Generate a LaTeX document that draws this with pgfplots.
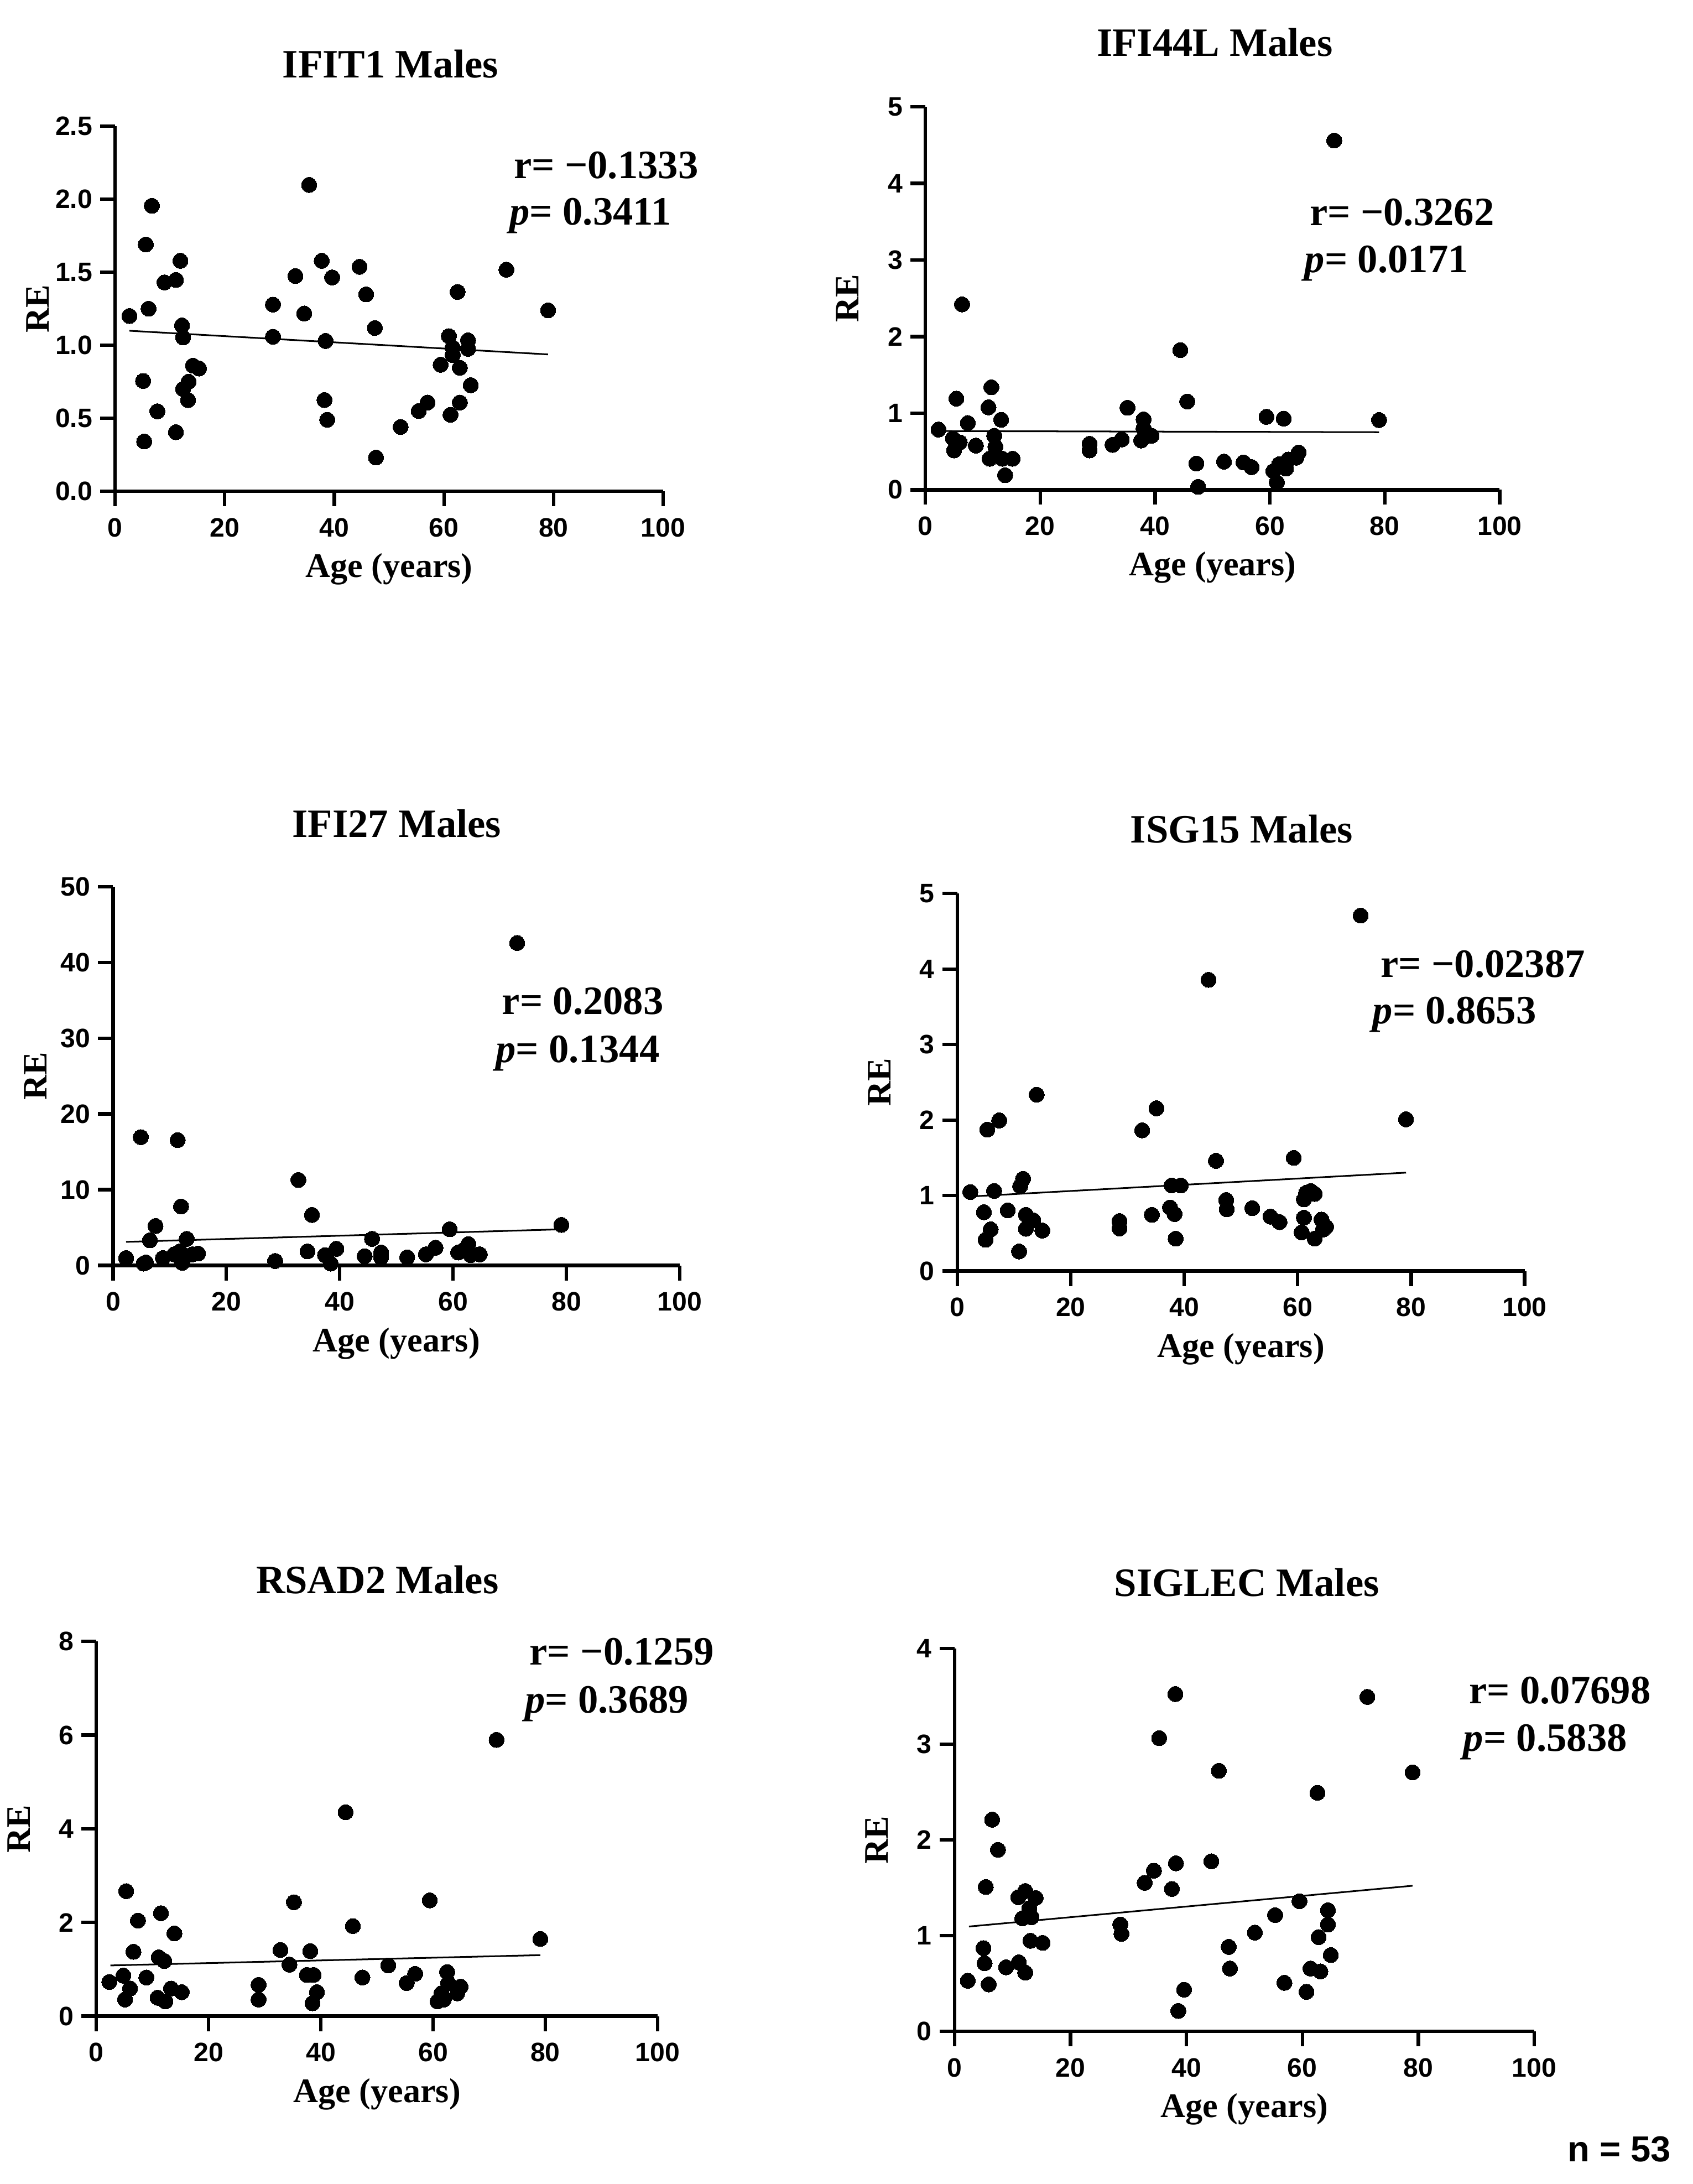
\documentclass[border=0pt]{standalone}
\usepackage{fontspec}
\setmainfont{Liberation Serif}
\newfontfamily\arialfont{Liberation Sans}
\usepackage{pgfplots}
\pgfplotsset{compat=1.18}
\pgfplotsset{
 panel/.style={
  scale only axis, anchor=south west, clip=false,
  axis lines*=left, axis line style={line width=1.25pt, black},
  tick style={line width=1.25pt, black}, major tick length=5.4pt, minor tick num=0,
  tick align=outside,
  xmin=0, xmax=100, ymin=0, xtick={0,20,...,100},
  /pgf/number format/assume math mode=true,
  tick label style={font=\arialfont\bfseries\fontsize{9.6}{11}\selectfont},
  xticklabel style={anchor=base, yshift=-11pt},
  yticklabel style={anchor=east, inner sep=0pt, xshift=-2.6pt},
  xlabel={Age (years)}, ylabel={RE},
  every axis x label/.style={at={(axis description cs:0.5,0)}, anchor=base, yshift=-31pt, font=\bfseries\fontsize{12.4}{14}\selectfont},
  every axis y label/.style={at={(axis description cs:0,0.5)}, xshift=-28pt, rotate=90, anchor=center, font=\bfseries\fontsize{12.4}{14}\selectfont},
 },
 pts/.style={only marks, mark=*, mark size=2.75pt, black, mark options={fill=black, draw=black, line width=0pt}},
 fit/.style={black, line width=0.6pt, no marks},
}
\newcommand{\ttl}{\bfseries\fontsize{14.5}{16}\selectfont}
\begin{document}
\begin{tikzpicture}
\useasboundingbox (0,0) rectangle (610pt,787pt);
% ---------- IFIT1
\begin{axis}[panel, at={(41.5pt,610pt)}, width=197.5pt, height=131.5pt, ymax=2.5,
  ytick={0,0.5,...,2.5}, yticklabel style={/pgf/number format/.cd, fixed, fixed zerofill, precision=1}]
\addplot[pts] coordinates {(2.6,1.20)(6.7,1.955)(5.6,1.69)(6.1,1.25)(5.1,0.755)(5.3,0.34)(7.7,0.547)(9.0,1.43)(11.1,1.447)(11.9,1.578)(12.2,1.135)(12.4,1.053)(11.1,0.404)(12.4,0.70)(13.4,0.75)(13.3,0.624)(14.2,0.86)(15.3,0.84)(28.8,1.278)(28.8,1.058)(32.9,1.474)(34.5,1.217)(35.4,2.098)(37.7,1.578)(39.6,1.464)(38.4,1.029)(38.2,0.624)(38.7,0.489)(44.6,1.537)(45.8,1.348)(47.4,1.118)(47.6,0.23)(52.1,0.44)(55.4,0.549)(57.0,0.607)(59.4,0.866)(60.9,1.062)(61.6,0.983)(61.6,0.932)(61.2,0.523)(62.5,1.365)(62.9,0.845)(62.9,0.607)(64.4,1.033)(64.4,0.975)(64.9,0.726)(71.4,1.517)(79.0,1.239)};
\addplot[fit] coordinates {(2.6,1.099)(79.0,0.937)};
\end{axis}
% ---------- IFI44L
\begin{axis}[panel, at={(333.5pt,610.5pt)}, width=207pt, height=138pt, ymax=5, ytick={0,1,...,5}]
\addplot[pts] coordinates {(2.3,0.786)(4.8,0.671)(5.4,1.19)(6.4,2.42)(5.0,0.514)(6.0,0.619)(7.4,0.871)(8.8,0.576)(11.0,1.076)(11.5,1.338)(12.0,0.705)(12.2,0.562)(11.2,0.405)(13.2,0.914)(13.4,0.405)(13.9,0.19)(15.2,0.405)(28.6,0.6)(28.6,0.514)(32.6,0.586)(34.2,0.657)(35.2,1.071)(38.0,0.919)(38.0,0.8)(37.6,0.643)(39.4,0.705)(44.4,1.824)(45.6,1.152)(47.2,0.343)(47.5,0.038)(52.0,0.367)(55.4,0.357)(56.8,0.295)(59.4,0.952)(62.4,0.929)(60.6,0.243)(61.2,0.095)(61.6,0.333)(62.8,0.276)(63.2,0.395)(64.6,0.419)(65.0,0.486)(71.2,4.56)(79.0,0.91)};
\addplot[fit] coordinates {(2.3,0.767)(79.0,0.752)};
\end{axis}
% ---------- IFI27
\begin{axis}[panel, at={(40.75pt,331pt)}, width=204.25pt, height=136.5pt, ymax=50, ytick={0,10,...,50}]
\addplot[pts] coordinates {(2.3,0.97)(4.9,16.93)(5.4,0.24)(5.8,0.39)(6.5,3.31)(7.5,5.2)(8.8,0.97)(10.8,1.46)(11.4,16.54)(12.0,7.78)(12.2,0.34)(11.8,1.85)(13.0,3.5)(14.0,1.46)(15.0,1.56)(28.6,0.58)(32.7,11.28)(34.3,1.85)(35.1,6.66)(37.4,1.36)(38.4,0.24)(39.4,2.19)(44.4,1.22)(45.7,3.5)(47.3,1.7)(47.3,1.07)(51.9,1.07)(55.2,1.46)(56.9,2.33)(59.4,4.77)(60.9,1.7)(61.7,1.95)(62.7,2.82)(63.1,1.36)(64.7,1.46)(71.3,42.56)(79.1,5.35)};
\addplot[fit] coordinates {(2.3,3.11)(79.1,4.77)};
\end{axis}
% ---------- ISG15
\begin{axis}[panel, at={(345pt,329pt)}, width=204.5pt, height=136pt, ymax=5, ytick={0,1,...,5}]
\addplot[pts] coordinates {(2.3,1.046)(4.7,0.778)(5.0,0.413)(5.3,1.873)(5.9,0.55)(6.5,1.06)(7.4,1.994)(8.9,0.803)(11.1,1.124)(11.6,1.221)(10.9,0.258)(12.1,0.744)(12.1,0.559)(13.4,0.671)(14.0,2.335)(15.0,0.535)(28.6,0.661)(28.6,0.564)(32.6,1.863)(34.3,0.744)(35.1,2.155)(37.5,0.841)(38.3,0.754)(37.8,1.133)(39.4,1.133)(38.5,0.428)(44.3,3.857)(45.6,1.459)(47.4,0.939)(47.5,0.817)(52.0,0.832)(55.2,0.72)(56.8,0.647)(59.3,1.498)(61.1,0.948)(61.5,1.036)(61.1,0.705)(60.7,0.511)(62.3,1.06)(63.0,1.021)(63.0,0.428)(64.2,0.681)(64.5,0.55)(65.0,0.584)(71.1,4.708)(79.1,2.009)};
\addplot[fit] coordinates {(2.3,0.987)(79.1,1.303)};
\end{axis}
% ---------- RSAD2
\begin{axis}[panel, at={(34.75pt,60.5pt)}, width=202.25pt, height=135pt, ymax=8, ytick={0,2,...,8}]
\addplot[pts] coordinates {(2.3,0.729)(4.8,0.863)(5.3,2.667)(5.1,0.353)(6.0,0.588)(6.6,1.373)(7.4,2.039)(8.9,0.824)(10.9,0.392)(11.5,2.196)(11.1,1.255)(12.1,1.176)(12.3,0.314)(13.3,0.588)(13.9,1.765)(15.2,0.51)(28.9,0.667)(28.9,0.353)(32.8,1.412)(34.4,1.098)(35.2,2.431)(38.1,1.388)(37.5,0.878)(38.7,0.878)(38.5,0.275)(39.3,0.51)(44.4,4.353)(45.7,1.922)(47.4,0.824)(52.0,1.082)(55.3,0.706)(56.8,0.902)(59.4,2.471)(60.8,0.314)(61.5,0.486)(61.9,0.353)(62.5,0.941)(62.7,0.706)(64.3,0.486)(64.9,0.627)(71.3,5.898)(79.1,1.647)};
\addplot[fit] coordinates {(2.5,1.082)(79.1,1.302)};
\end{axis}
% ---------- SIGLEC
\begin{axis}[panel, at={(344pt,55pt)}, width=209pt, height=138pt, ymax=4, ytick={0,1,...,4}]
\addplot[pts] coordinates {(2.3,0.528)(5.0,0.869)(5.2,0.711)(5.4,1.508)(5.9,0.49)(6.5,2.211)(7.5,1.896)(8.9,0.669)(11.1,0.72)(11.0,1.401)(12.2,1.465)(12.2,0.613)(11.7,1.18)(12.9,1.286)(13.3,1.193)(13.1,0.946)(14.0,1.393)(15.2,0.924)(28.6,1.116)(28.8,1.018)(32.8,1.551)(34.4,1.678)(35.3,3.063)(37.5,1.487)(38.2,1.755)(38.1,3.523)(38.6,0.213)(39.6,0.435)(44.3,1.776)(45.6,2.722)(47.3,0.882)(47.5,0.656)(51.8,1.031)(55.3,1.214)(56.9,0.507)(59.5,1.359)(60.7,0.413)(61.4,0.656)(62.6,2.492)(62.8,0.984)(63.1,0.626)(64.4,1.265)(64.4,1.116)(64.9,0.797)(71.2,3.493)(79.0,2.705)};
\addplot[fit] coordinates {(2.5,1.095)(79.0,1.521)};
\end{axis}
% ---------- titles
\node[anchor=base, font=\ttl] at (140.7pt,759pt) {IFIT1 Males};
\node[anchor=base, font=\ttl] at (437.8pt,766.8pt) {IFI44L Males};
\node[anchor=base, font=\ttl] at (143pt,485.3pt) {IFI27 Males};
\node[anchor=base, font=\ttl] at (447.5pt,483.3pt) {ISG15 Males};
\node[anchor=base, font=\ttl] at (136pt,212.85pt) {RSAD2 Males};
\node[anchor=base, font=\ttl] at (449.35pt,211.85pt) {SIGLEC Males};
% ---------- statistics
\begin{scope}[every node/.style={anchor=base west, inner sep=0pt, font=\ttl}]
\node at (185pt,722.65pt) {r= −0.1333};
\node at (183.5pt,706pt) {\textit{p}= 0.3411};
\node at (471.85pt,705.75pt) {r= −0.3262};
\node at (470pt,688.9pt) {\textit{p}= 0.0171};
\node at (180.75pt,421.5pt) {r= 0.2083};
\node at (178.5pt,404.2pt) {\textit{p}= 0.1344};
\node at (497.4pt,434.8pt) {r= −0.02387};
\node at (494.5pt,418.2pt) {\textit{p}= 0.8653};
\node at (190.7pt,187pt) {r= −0.1259};
\node at (189pt,169.65pt) {\textit{p}= 0.3689};
\node at (529.3pt,173.05pt) {r= 0.07698};
\node at (527.25pt,156pt) {\textit{p}= 0.5838};
\end{scope}
\node[anchor=base west, inner sep=0pt, font=\arialfont\bfseries\fontsize{13}{14}\selectfont] at (564.8pt,8pt) {n = 53};
\end{tikzpicture}
\end{document}
